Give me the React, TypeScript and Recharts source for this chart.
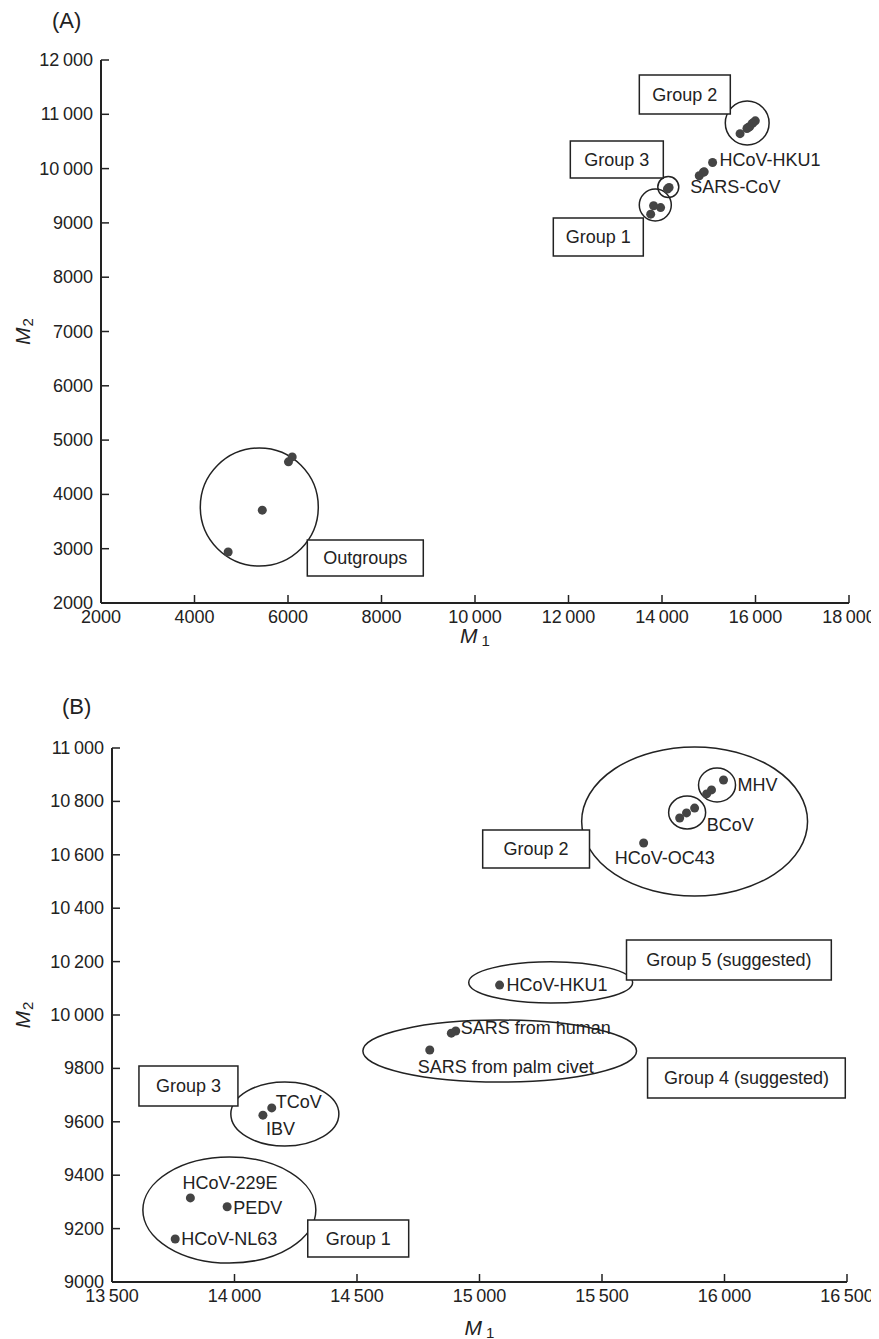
import React from 'react';
import { ScatterChart, Scatter, XAxis, YAxis, ReferenceArea, Label } from 'recharts';

// coronavirus positions (M1, M2)
const virusIds = [
  'MHV', 'MHV b', 'MHV c', 'BCoV a', 'BCoV b', 'BCoV c', 'HCoV-OC43', 'HCoV-HKU1',
  'SARS human a', 'SARS human b', 'SARS palm civet', 'TCoV', 'IBV', 'HCoV-229E', 'PEDV', 'HCoV-NL63',
];
const virusM1 = [15996, 15947, 15927, 15878, 15845, 15817, 15670, 15082, 14903, 14885, 14797, 14152, 14116, 13820, 13970, 13758];
const virusM2 = [10880, 10843, 10828, 10775, 10757, 10738, 10644, 10112, 9940, 9932, 9869, 9652, 9625, 9315, 9282, 9161];

// outgroups only appear in panel A
const outgroupIds = ['out 1', 'out 2', 'out 3', 'out 4'];
const outgroupM1 = [4720, 5450, 6010, 6090];
const outgroupM2 = [2940, 3710, 4600, 4690];

const ticksAx = [2000, 4000, 6000, 8000, 10000, 12000, 14000, 16000, 18000];
const ticksAy = [2000, 3000, 4000, 5000, 6000, 7000, 8000, 9000, 10000, 11000, 12000];
const ticksBx = [13500, 14000, 14500, 15000, 15500, 16000, 16500];
const ticksBy = [9000, 9200, 9400, 9600, 9800, 10000, 10200, 10400, 10600, 10800, 11000];

// point labels: text plus pixel offset from the dot
const labelsA: Record<string, { text: string; dx: number; dy: number }> = {
  'HCoV-HKU1': { text: 'HCoV-HKU1', dx: 7, dy: -3 },
  'SARS human b': { text: 'SARS-CoV', dx: -13, dy: 15 },
};
const labelsB: Record<string, { text: string; dx: number; dy: number }> = {
  'MHV': { text: 'MHV', dx: 14, dy: 5 },
  'BCoV c': { text: 'BCoV', dx: 27, dy: 7 },
  'HCoV-OC43': { text: 'HCoV-OC43', dx: -29, dy: 15 },
  'HCoV-HKU1': { text: 'HCoV-HKU1', dx: 7, dy: 0 },
  'SARS human a': { text: 'SARS from human', dx: 5, dy: -3 },
  'SARS palm civet': { text: 'SARS from palm civet', dx: -12, dy: 17 },
  'TCoV': { text: 'TCoV', dx: 4, dy: -6 },
  'IBV': { text: 'IBV', dx: 3, dy: 14 },
  'HCoV-229E': { text: 'HCoV-229E', dx: -8, dy: -15 },
  'PEDV': { text: 'PEDV', dx: 6, dy: 1 },
  'HCoV-NL63': { text: 'HCoV-NL63', dx: 6, dy: 0 },
};

// group boxes and rings, bounds in data units
const boxesA = [
  { text: 'Group 2', x1: 13515, x2: 15461, y1: 11006, y2: 11724 },
  { text: 'Group 3', x1: 12039, x2: 14028, y1: 9827, y2: 10508 },
  { text: 'Group 1', x1: 11675, x2: 13600, y1: 8390, y2: 9090 },
  { text: 'Outgroups', x1: 6413, x2: 8894, y1: 2497, y2: 3160 },
];
const ringsA = [
  { x1: 15354, x2: 16291, y1: 10435, y2: 11245 },
  { x1: 13910, x2: 14359, y1: 9468, y2: 9854 },
  { x1: 13514, x2: 14199, y1: 9035, y2: 9624 },
  { x1: 4124, x2: 6648, y1: 2681, y2: 4854 },
];
const boxesB = [
  { text: 'Group 2', x1: 15013, x2: 15449, y1: 10551, y2: 10693 },
  { text: 'Group 5 (suggested)', x1: 15600, x2: 16436, y1: 10131, y2: 10281 },
  { text: 'Group 4 (suggested)', x1: 15686, x2: 16493, y1: 9689, y2: 9839 },
  { text: 'Group 3', x1: 13610, x2: 14014, y1: 9659, y2: 9809 },
  { text: 'Group 1', x1: 14299, x2: 14711, y1: 9094, y2: 9232 },
];
const ringsB = [
  { x1: 15417, x2: 16339, y1: 10446, y2: 11004 },
  { x1: 15894, x2: 16045, y1: 10798, y2: 10925 },
  { x1: 15772, x2: 15923, y1: 10697, y2: 10820 },
  { x1: 14956, x2: 15625, y1: 10045, y2: 10199 },
  { x1: 14524, x2: 15641, y1: 9749, y2: 9981 },
  { x1: 13985, x2: 14426, y1: 9509, y2: 9749 },
  { x1: 13626, x2: 14332, y1: 9071, y2: 9468 },
];

const FONT = '"Liberation Sans", Arial, sans-serif';
const INK = '#222';
const W = 871;

const fmt = (v: number) =>
  v >= 10000 ? `${Math.floor(v / 1000)}\u2009${String(v % 1000).padStart(3, '0')}` : `${v}`;

const YTick = (props: any) => {
  const { x, y, payload } = props;
  return (
    <g>
      <line x1={x} x2={x + 8} y1={y} y2={y} stroke={INK} strokeWidth={1.5} />
      <text x={x - 8} y={y} textAnchor="end" dominantBaseline="central" fontSize={18} fontFamily={FONT} fill={INK}>
        {fmt(payload.value)}
      </text>
    </g>
  );
};

const XTick = (props: any) => {
  const { x, y, payload } = props;
  return (
    <g>
      <line x1={x} x2={x} y1={y} y2={y - 8} stroke={INK} strokeWidth={1.5} />
      <text x={x} y={y + 14} textAnchor="middle" dominantBaseline="central" fontSize={18} fontFamily={FONT} fill={INK}>
        {fmt(payload.value)}
      </text>
    </g>
  );
};

const Ring = (p: any) => (
  <ellipse
    cx={p.x + p.width / 2}
    cy={p.y + p.height / 2}
    rx={Math.abs(p.width) / 2}
    ry={Math.abs(p.height) / 2}
    fill="none"
    stroke={INK}
    strokeWidth={1.5}
  />
);

const makeDot = (labels: Record<string, { text: string; dx: number; dy: number }>, fontSize: number) =>
  (p: any) => {
    const lab = labels[p.payload.id];
    return (
      <g>
        <circle cx={p.cx} cy={p.cy} r={4.5} fill="#444" />
        {lab && (
          <text x={p.cx + lab.dx} y={p.cy + lab.dy} dominantBaseline="central" fontSize={fontSize} fontFamily={FONT} fill={INK}>
            {lab.text}
          </text>
        )}
      </g>
    );
  };

const axisName = (sub: string, rotate: boolean, dx: number, dy: number) => (props: any) => {
  const vb = props.viewBox;
  const cx = rotate ? vb.x + dx : vb.x + vb.width / 2;
  const cy = rotate ? vb.y + vb.height / 2 : vb.y + dy;
  return (
    <text
      x={cx}
      y={cy}
      textAnchor="middle"
      dominantBaseline="central"
      fontSize={21}
      fontFamily={FONT}
      fill={INK}
      transform={rotate ? `rotate(-90 ${cx} ${cy})` : undefined}
    >
      <tspan fontStyle="italic">M</tspan>
      <tspan dx={rotate ? 1 : 4} dy={5} fontSize={15}>{sub}</tspan>
    </text>
  );
};

interface PanelProps {
  title: string;
  titlePos: { left: number; top: number };
  height: number;
  margin: { top: number; right: number; left: number; bottom: number };
  yWidth: number;
  xDomain: [number, number];
  yDomain: [number, number];
  xTicks: number[];
  yTicks: number[];
  points: { id: string; m1: number; m2: number }[];
  labels: Record<string, { text: string; dx: number; dy: number }>;
  labelSize: number;
  boxes: { text: string; x1: number; x2: number; y1: number; y2: number }[];
  rings: { x1: number; x2: number; y1: number; y2: number }[];
  xNameDy: number;
}

const Panel = (cfg: PanelProps) => (
  <div style={{ position: 'relative', width: W, height: cfg.height }}>
    <div style={{ position: 'absolute', left: cfg.titlePos.left, top: cfg.titlePos.top, fontFamily: FONT, fontSize: 22, color: INK }}>
      {cfg.title}
    </div>
    <ScatterChart width={W} height={cfg.height} margin={cfg.margin}>
      <XAxis
        type="number"
        dataKey="m1"
        domain={cfg.xDomain}
        ticks={cfg.xTicks}
        interval={0}
        allowDataOverflow
        height={30}
        tickSize={0}
        tickMargin={0}
        tickLine={false}
        tick={XTick}
        axisLine={{ stroke: INK, strokeWidth: 2 }}
      >
        <Label content={axisName('1', false, 0, cfg.xNameDy)} />
      </XAxis>
      <YAxis
        type="number"
        dataKey="m2"
        domain={cfg.yDomain}
        ticks={cfg.yTicks}
        interval={0}
        allowDataOverflow
        width={cfg.yWidth}
        tickSize={0}
        tickMargin={0}
        tickLine={false}
        tick={YTick}
        axisLine={{ stroke: INK, strokeWidth: 2 }}
      >
        <Label content={axisName('2', true, 14, 0)} />
      </YAxis>
      {cfg.rings.map((r, i) => (
        <ReferenceArea key={`ring-${i}`} x1={r.x1} x2={r.x2} y1={r.y1} y2={r.y2} ifOverflow="visible" shape={Ring} />
      ))}
      {cfg.boxes.map((b) => (
        <ReferenceArea
          key={b.text}
          x1={b.x1}
          x2={b.x2}
          y1={b.y1}
          y2={b.y2}
          ifOverflow="visible"
          fill="#fff"
          fillOpacity={1}
          stroke={INK}
          strokeWidth={1.5}
          label={{ value: b.text, position: 'center', fill: INK, fontSize: 18, fontFamily: FONT }}
        />
      ))}
      <Scatter data={cfg.points} shape={makeDot(cfg.labels, cfg.labelSize)} isAnimationActive={false} />
    </ScatterChart>
  </div>
);

export default function App() {
  const viruses = virusIds.map((id, i) => ({ id, m1: virusM1[i], m2: virusM2[i] }));
  const outgroups = outgroupIds.map((id, i) => ({ id, m1: outgroupM1[i], m2: outgroupM2[i] }));

  return (
    <div style={{ width: W, background: '#fff' }}>
      <Panel
        title="(A)"
        titlePos={{ left: 44, top: 0 }}
        height={660}
        margin={{ top: 52, right: 30, left: 0, bottom: 35 }}
        yWidth={93}
        xDomain={[2000, 18000]}
        yDomain={[2000, 12000]}
        xTicks={ticksAx}
        yTicks={ticksAy}
        points={[...viruses, ...outgroups]}
        labels={labelsA}
        labelSize={18}
        boxes={boxesA}
        rings={ringsA}
        xNameDy={32}
      />
      <Panel
        title="(B)"
        titlePos={{ left: 54, top: 26 }}
        height={675}
        margin={{ top: 80, right: 32, left: 0, bottom: 31 }}
        yWidth={104}
        xDomain={[13500, 16500]}
        yDomain={[9000, 11000]}
        xTicks={ticksBx}
        yTicks={ticksBy}
        points={viruses}
        labels={labelsB}
        labelSize={18}
        boxes={boxesB}
        rings={ringsB}
        xNameDy={45}
      />
    </div>
  );
}
